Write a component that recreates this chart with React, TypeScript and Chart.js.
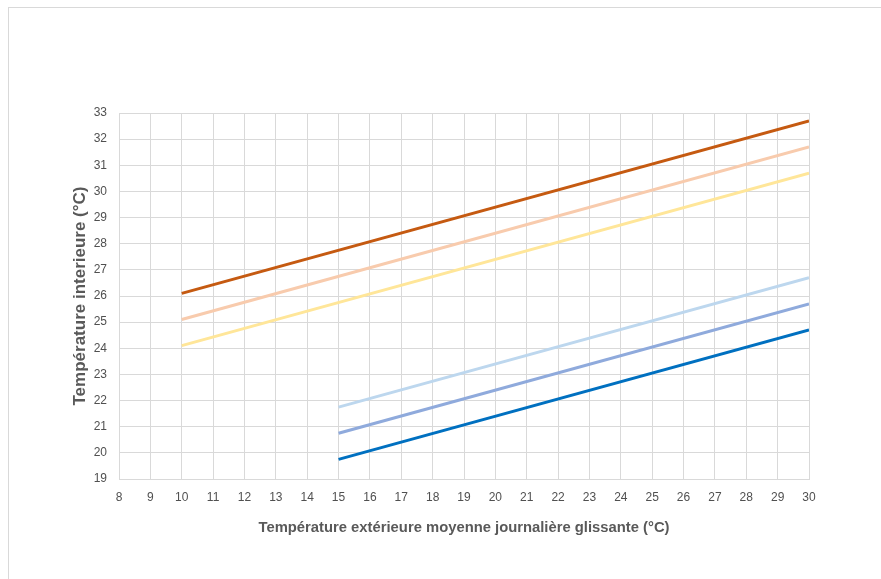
import React, { useEffect, useRef } from "react";
import { Chart, registerables } from "chart.js";

Chart.register(...registerables);

const upperX = [10, 30];
const lowerX = [15, 30];
const upperCat3 = [26.1, 32.7];
const upperCat2 = [25.1, 31.7];
const upperCat1 = [24.1, 30.7];
const lowerCat1 = [21.75, 26.7];
const lowerCat2 = [20.75, 25.7];
const lowerCat3 = [19.75, 24.7];

const xTitle = "Température extérieure moyenne journalière glissante (°C)";
const yTitle = "Température interieure (°C)";

const toPts = (xs: number[], ys: number[]) => xs.map((x, i) => ({ x, y: ys[i] }));

export default function App() {
  const ref = useRef<HTMLCanvasElement | null>(null);
  useEffect(() => {
    if (!ref.current) return;
    const font = "'Liberation Sans', Arial, sans-serif";
    const mk = (label: string, xs: number[], ys: number[], color: string) => ({
      label,
      data: toPts(xs, ys),
      borderColor: color,
      backgroundColor: color,
      borderWidth: 3,
      pointRadius: 0,
      fill: false,
      tension: 0,
    });
    const chart = new Chart(ref.current, {
      type: "line",
      data: {
        datasets: [
          mk("Cat III sup", upperX, upperCat3, "#C55A11"),
          mk("Cat II sup", upperX, upperCat2, "#F8CBAD"),
          mk("Cat I sup", upperX, upperCat1, "#FFE699"),
          mk("Cat I inf", lowerX, lowerCat1, "#BDD7EE"),
          mk("Cat II inf", lowerX, lowerCat2, "#8FAADC"),
          mk("Cat III inf", lowerX, lowerCat3, "#0070C0"),
        ],
      },
      options: {
        responsive: false,
        animation: false,
        layout: { padding: { left: 60, top: 113, right: 72, bottom: 30 } },
        plugins: { legend: { display: false }, tooltip: { enabled: false } },
        scales: {
          x: {
            type: "linear",
            min: 8,
            max: 30,
            ticks: {
              stepSize: 1,
              color: "#505050",
              padding: 11,
              font: { family: font, size: 12 },
              maxRotation: 0,
              autoSkip: false,
            },
            grid: { color: "#d9d9d9", drawTicks: false, lineWidth: 1 },
            border: { color: "#d9d9d9" },
            title: {
              display: true,
              text: xTitle,
              color: "#595959",
              font: { family: font, size: 14.8, weight: "bold" },
              padding: { top: 0, bottom: 12 },
            },
            afterFit: (s: any) => {
              s.height = 70;
            },
          },
          y: {
            min: 19,
            max: 33,
            ticks: {
              stepSize: 1,
              color: "#505050",
              padding: 12,
              font: { family: font, size: 12 },
            },
            grid: { color: "#d9d9d9", drawTicks: false, lineWidth: 1 },
            border: { color: "#d9d9d9" },
            title: {
              display: true,
              text: yTitle,
              color: "#595959",
              font: { family: font, size: 17, weight: "bold" },
              padding: { top: 10, bottom: 0 },
            },
            afterFit: (s: any) => {
              s.width = 59;
            },
          },
        },
      },
    } as any);
    return () => chart.destroy();
  }, []);
  return (
    <div style={{ position: "absolute", left: 0, top: 0, width: 881, height: 579, overflow: "hidden", background: "#fff" }}>
      <div style={{ position: "absolute", left: 8, top: 7, width: 900, height: 600, border: "1px solid #d9d9d9", boxSizing: "border-box" }} />
      <canvas ref={ref} width={881} height={579} style={{ position: "absolute", left: 0, top: 0, width: 881, height: 579 }} />
    </div>
  );
}
